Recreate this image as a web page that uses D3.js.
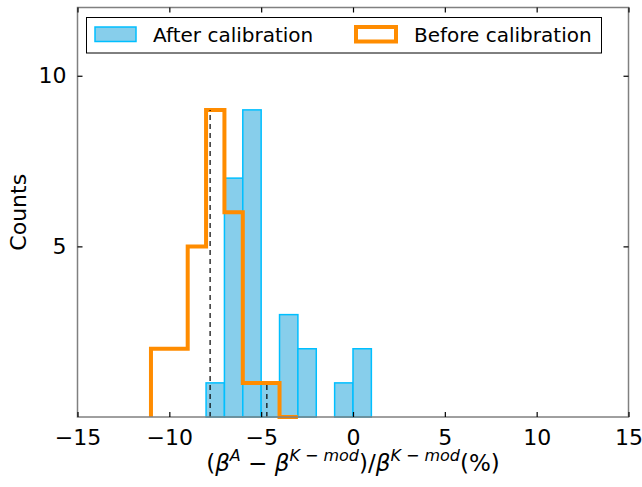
<!DOCTYPE html>
<html><head><meta charset="utf-8">
<script src="https://cdn.jsdelivr.net/npm/d3@7"></script>
<style>body{margin:0;background:#fff}svg{display:block}text{font-family:"DejaVu Sans",sans-serif}</style>
</head><body><svg id="c" width="642" height="487"></svg>
<script>
// After calibration histogram: bin edges (left) and counts, bin width 1
const afterBinStarts = [-8, -7, -6, -5, -4, -3, -2, -1, 0];
const afterCounts    = [ 1,  7,  9,  1,  3,  2,  0,  1, 2];
// Before calibration step histogram
const beforeBinEdges = [-11, -10, -9, -8, -7, -6, -5, -4, -3];
const beforeCounts   = [  2,   2,  5,  9,  6,  1,  1,  0];
// Mean markers (dashed lines): position and height
const meanX = [-7.78, -4.69];
const meanH = [9, 1];
const xTicks = [-15, -10, -5, 0, 5, 10, 15];
const yTicks = [5, 10];

const svg = d3.select("#c");
const L = 77.5, R = 628.5, T = 7.5, B = 417;
const x = d3.scaleLinear().domain([-15, 15]).range([L, R]);
const y = d3.scaleLinear().domain([0, 12]).range([B, T]);

// blue bars
svg.append("g").selectAll("rect").data(afterBinStarts.map((s,i)=>({s,c:afterCounts[i]})).filter(d=>d.c>0))
  .join("rect")
  .attr("x", d=>x(d.s)).attr("width", d=>x(d.s+1)-x(d.s))
  .attr("y", d=>y(d.c)).attr("height", d=>y(0)-y(d.c))
  .attr("fill", "#87CEEB").attr("stroke", "#00BFFF").attr("stroke-width", 1.5);

// orange step
const pts = [[beforeBinEdges[0], 0]];
beforeCounts.forEach((c,i)=>{ pts.push([beforeBinEdges[i], c]); pts.push([beforeBinEdges[i+1], c]); });
pts.push([beforeBinEdges[beforeBinEdges.length-1], 0]);
svg.append("path").attr("d", d3.line().x(d=>x(d[0])).y(d=>y(d[1]))(pts))
  .attr("fill", "none").attr("stroke", "#FF8C00").attr("stroke-width", 4).attr("stroke-linejoin", "miter");

// dashed mean lines
svg.append("g").selectAll("line").data(meanX.map((m,i)=>({m,h:meanH[i]}))).join("line")
  .attr("x1", d=>x(d.m)).attr("x2", d=>x(d.m)).attr("y1", y(0)).attr("y2", d=>y(d.h))
  .attr("stroke", "#000").attr("stroke-width", 1.2).attr("stroke-dasharray", "5,4");

// spines
svg.append("rect").attr("x", L).attr("y", T).attr("width", R-L).attr("height", B-T)
  .attr("fill", "none").attr("stroke", "#808080").attr("stroke-width", 1.5);

// axes with inward ticks
const fs = 22;
const xb = svg.append("g").attr("transform", `translate(0,${B})`)
  .call(d3.axisBottom(x).tickValues(xTicks).tickSizeInner(-5).tickSizeOuter(0).tickPadding(12).tickFormat(d=>d<0?"\u2212"+Math.abs(d):d));
const xt = svg.append("g").attr("transform", `translate(0,${T})`)
  .call(d3.axisTop(x).tickValues(xTicks).tickSizeInner(-5).tickSizeOuter(0).tickFormat(""));
const yl = svg.append("g").attr("transform", `translate(${L},0)`)
  .call(d3.axisLeft(y).tickValues(yTicks).tickSizeInner(-5).tickSizeOuter(0).tickPadding(11));
const yr = svg.append("g").attr("transform", `translate(${R},0)`)
  .call(d3.axisRight(y).tickValues(yTicks).tickSizeInner(-5).tickSizeOuter(0).tickFormat(""));
[xb,xt,yl,yr].forEach(g=>{
  g.select(".domain").remove();
  g.selectAll(".tick line").attr("stroke","#000").attr("stroke-width",1.2);
  g.selectAll("text").attr("font-size", fs).attr("fill","#000").style("font-family","DejaVu Sans");
});
xb.selectAll("text").attr("dy","0.71em");

// y label
svg.append("text").attr("transform", `translate(26,${(T+B)/2}) rotate(-90)`)
  .attr("text-anchor","middle").attr("font-size",22).text("Counts");

// x label (math)
const xl = svg.append("text").attr("x", 353).attr("y", 471).attr("text-anchor","middle").attr("font-size",23);
const parts = [
  ["(", false, 0], ["\u03B2", true, 0], ["A", true, 1], [" \u2212 ", false, 0], ["\u03B2", true, 0], ["K \u2212 mod", true, 1],
  [")/", false, 0], ["\u03B2", true, 0], ["K \u2212 mod", true, 1], ["(%)", false, 0]
];
let prevSup = 0;
parts.forEach(([t, it, sup])=>{
  const ts = xl.append("tspan").text(t).attr("font-style", it?"italic":"normal");
  if (sup) ts.attr("font-size", 16);
  const dy = (sup?-10:0) - (prevSup?-10:0);
  if (dy) ts.attr("dy", dy);
  prevSup = sup;
});

// legend
const lg = svg.append("g");
lg.append("rect").attr("x",86.5).attr("y",17.5).attr("width",515).attr("height",35.5)
  .attr("fill","#fff").attr("stroke","#000").attr("stroke-width",1);
lg.append("rect").attr("x",95).attr("y",27).attr("width",41).attr("height",14.5)
  .attr("fill","#87CEEB").attr("stroke","#00BFFF").attr("stroke-width",1.5);
lg.append("text").attr("x",153).attr("y",42).attr("font-size",20).text("After calibration");
lg.append("rect").attr("x",356).attr("y",27).attr("width",40).attr("height",14.5)
  .attr("fill","#fff").attr("stroke","#FF8C00").attr("stroke-width",4);
lg.append("text").attr("x",414).attr("y",42).attr("font-size",20).text("Before calibration");
</script></body></html>
